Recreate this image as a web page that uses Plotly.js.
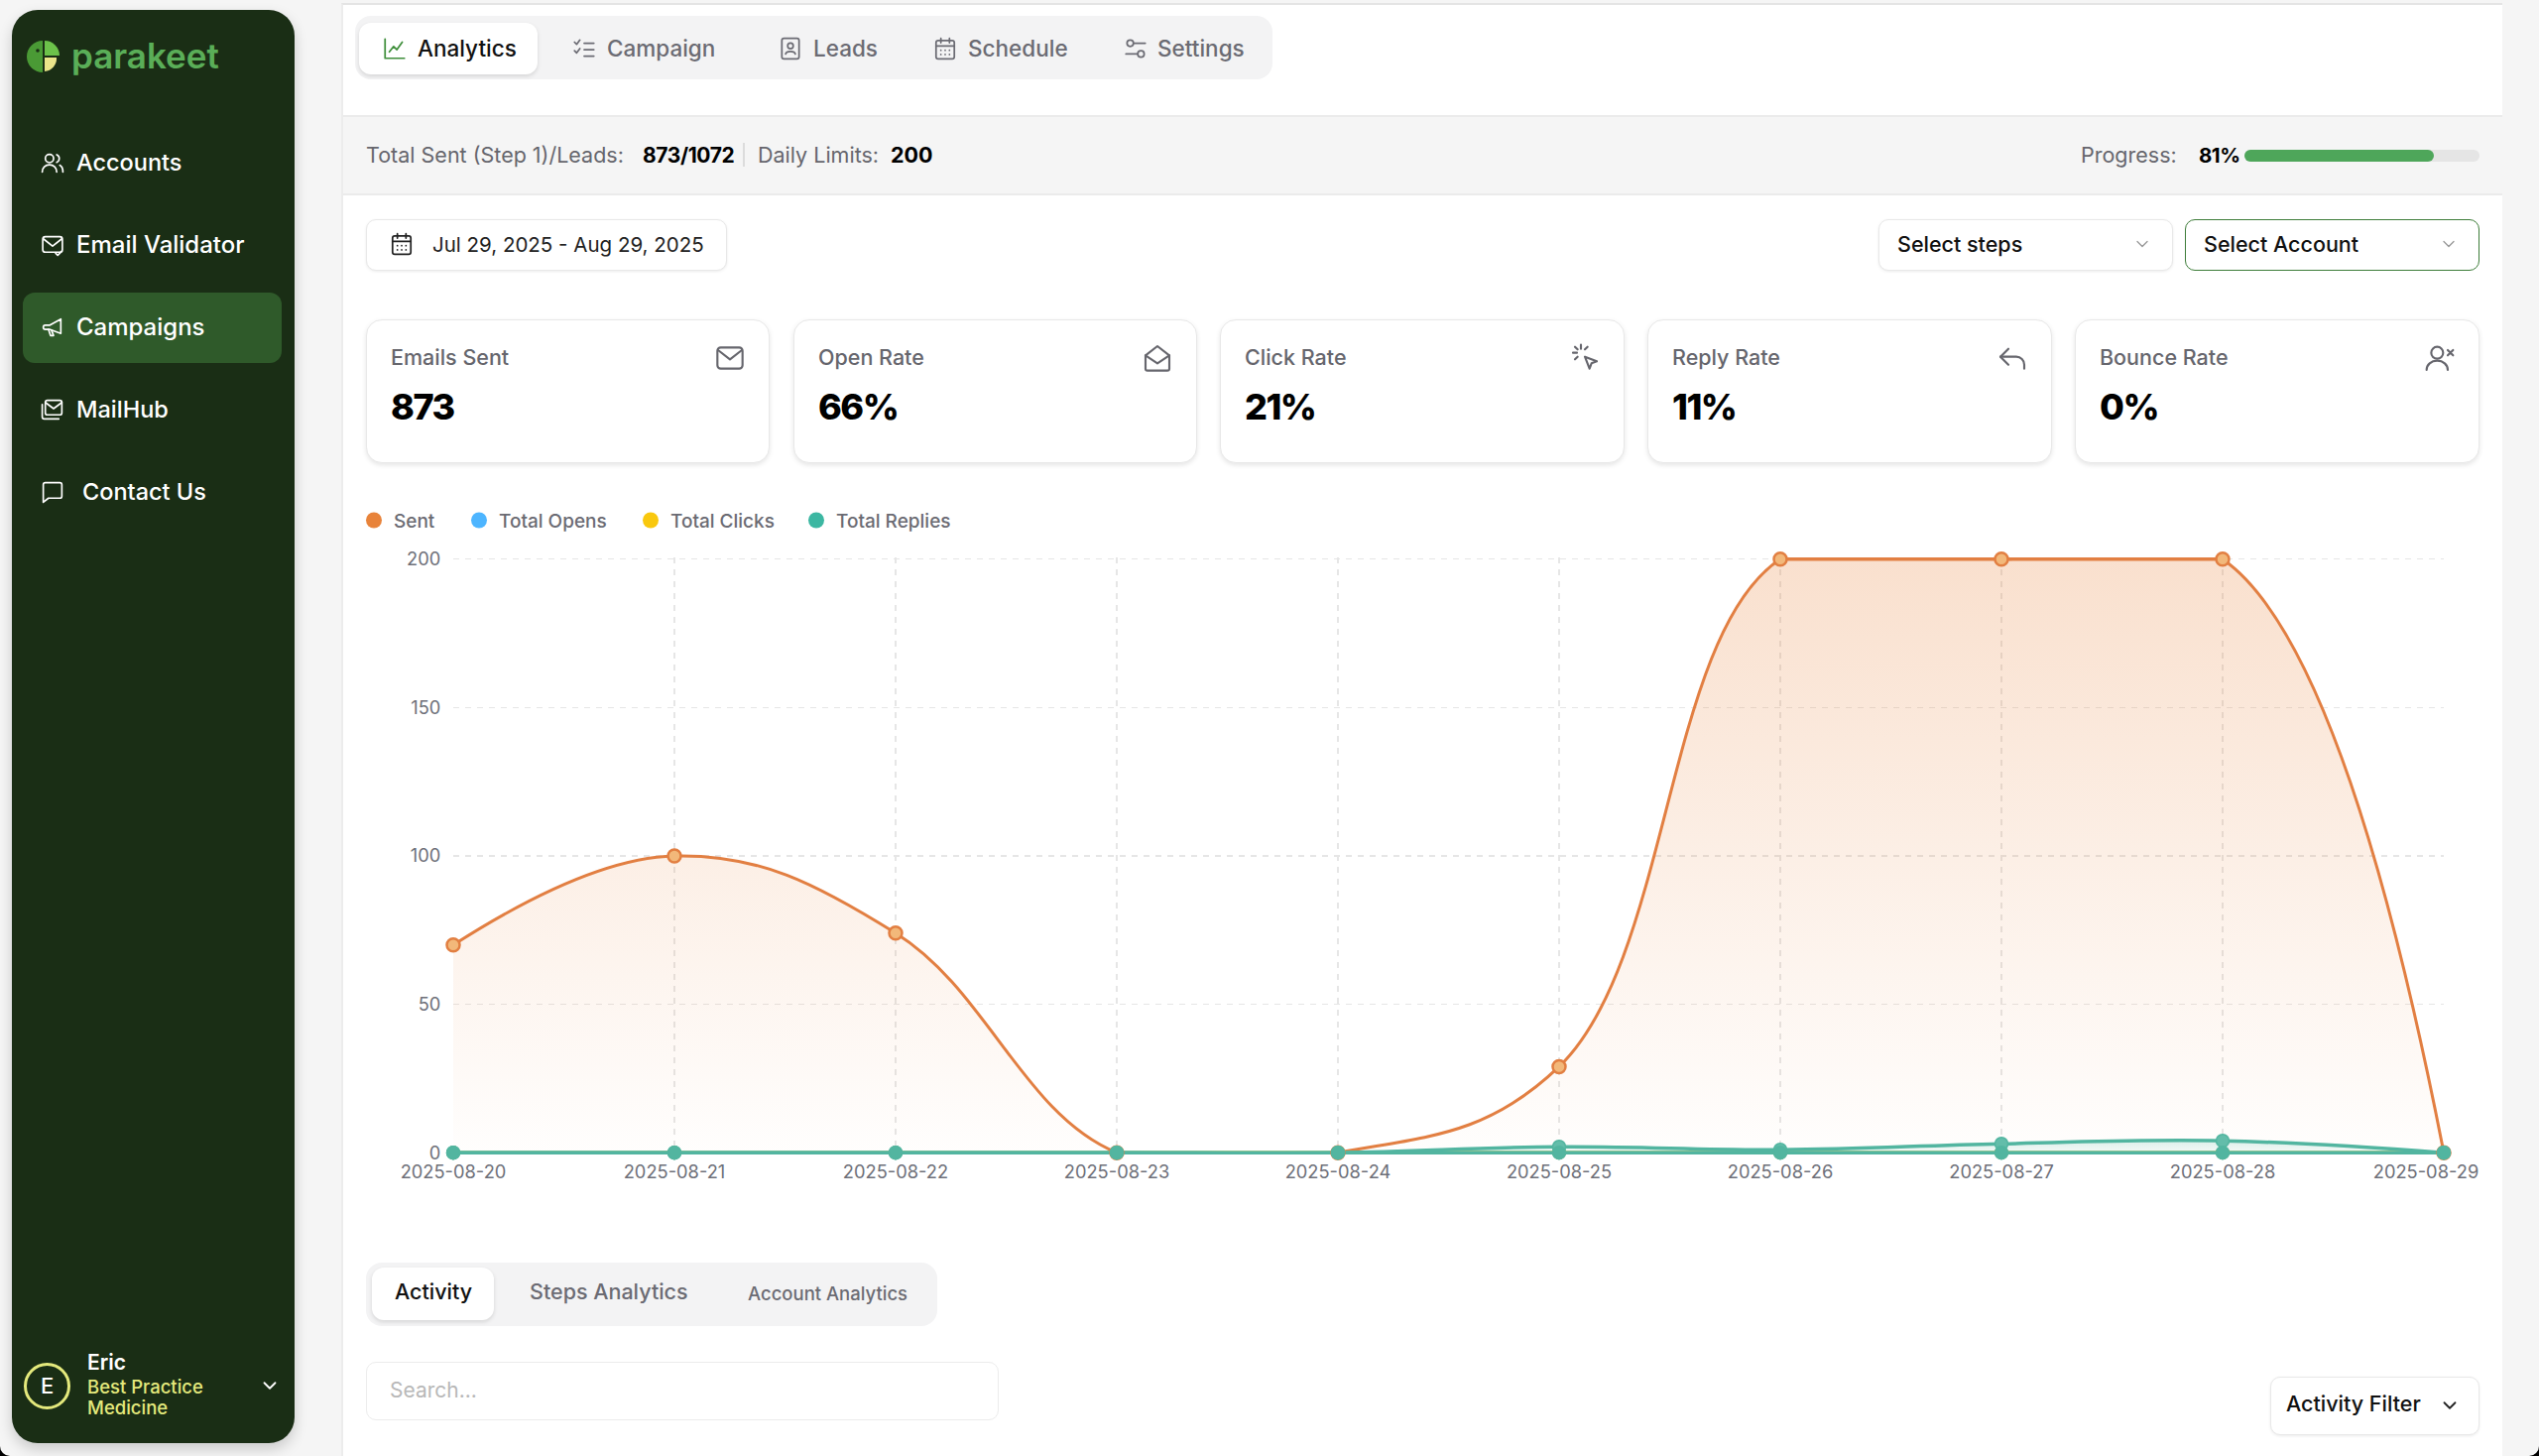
<!DOCTYPE html>
<html><head><meta charset="utf-8">
<script src="https://cdn.plot.ly/plotly-3.0.1.min.js"></script>
<style>
html,body{margin:0;padding:0;width:2560px;height:1468px;overflow:hidden;background:#000;font-family:Inter,"Open Sans",sans-serif}
#page{position:absolute;left:0;top:0;width:2560px;height:1468px;background:#f5f5f5;border-radius:0 0 10px 10px;overflow:hidden}
.b{position:absolute;box-sizing:border-box}
.t{position:absolute;white-space:nowrap;transform:translateY(-50%);line-height:1.2}
svg.i{position:absolute;transform:translate(-50%,-50%);fill:none;stroke-linecap:round;stroke-linejoin:round}
#chart{position:absolute;left:340px;top:490px;width:2220px;height:760px}
</style></head><body><div id="page"><div id="chart"></div></div>
<script>
// Chart data
const dates = ['2025-08-20','2025-08-21','2025-08-22','2025-08-23','2025-08-24','2025-08-25','2025-08-26','2025-08-27','2025-08-28','2025-08-29'];
const sent = [70,100,74,0,0,29,200,200,200,0];
const totalOpens = [0,0,0,0,0,0,0,0,0,0];
const totalClicks = [0,0,0,0,0,0,0,0,0,0];
const upperTeal = [0,0,0,0,0,2,1,3,4,0];
const totalReplies = [0,0,0,0,0,0,0,0,0,0];
const yTicks = [0,50,100,150,200];
const legendNames = ['Sent','Total Opens','Total Clicks','Total Replies'];
const legendColors = ['#e8833a','#4db5ff','#f9c80e','#3cb7a2'];

// UI text
const navItems = ['Accounts','Email Validator','Campaigns','MailHub','Contact Us'];
const topTabs = ['Analytics','Campaign','Leads','Schedule','Settings'];
const statLabels = ['Emails Sent','Open Rate','Click Rate','Reply Rate','Bounce Rate'];
const statValues = ['873','66%','21%','11%','0%'];

const page = document.getElementById('page');
function box(x,y,w,h,style){const d=document.createElement('div');d.className='b';d.style.cssText=`left:${x}px;top:${y}px;width:${w}px;height:${h}px;`+(style||'');page.appendChild(d);return d;}
function txt(s,x,y,size,weight,color,extra){const d=document.createElement('div');d.className='t';d.textContent=s;d.style.cssText=`left:${x}px;top:${y}px;font-size:${size}px;font-weight:${weight};color:${color};`+(extra||'');page.appendChild(d);return d;}
function ico(x,y,size,color,body,sw){const s=document.createElementNS('http://www.w3.org/2000/svg','svg');s.setAttribute('class','i');s.setAttribute('viewBox','0 0 24 24');s.setAttribute('width',size);s.setAttribute('height',size);s.style.cssText=`left:${x}px;top:${y}px;stroke:${color};stroke-width:${sw||1.6}`;s.innerHTML=body;page.appendChild(s);}

const I={
 users:'<circle cx="9" cy="8" r="4"/><path d="M2 21c0-4 3-7 7-7s7 3 7 7"/><path d="M16 4.3a4 4 0 0 1 0 7.4M19 14.5c2 1 3 3.5 3 6.5"/>',
 mailchk:'<rect x="2.5" y="4" width="19" height="15" rx="2.5"/><path d="M3 6l9 7 9-7"/><path d="M15 20l2 2 4-4"/>',
 mega:'<path d="M20 4v14L9 14H5a2 2 0 0 1-2-2v0a2 2 0 0 1 2-2h4z"/><path d="M8 14l2 6h3l-2-5"/>',
 hub:'<rect x="5" y="3" width="16" height="14" rx="2"/><path d="M5 5l8 6 8-6"/><path d="M2 7v12a2 2 0 0 0 2 2h14"/>',
 chat:'<path d="M3 5a2 2 0 0 1 2-2h14a2 2 0 0 1 2 2v11a2 2 0 0 1-2 2H8l-5 4z"/>',
 chart:'<path d="M3 3v18h18"/><path d="M7 15l4-5 3 3 5-7"/>',
 list:'<path d="M3 6l2 2 3-4M3 14l2 2 3-4M12 7h9M12 13h9M12 19h9"/>',
 lead:'<rect x="4" y="2.5" width="16" height="19" rx="2"/><circle cx="12" cy="9.5" r="2.6"/><path d="M7.5 17c.8-3 8.200-3 9 0"/>',
 cal:'<rect x="3.500" y="4.500" width="17" height="17" rx="2"/><path d="M3.500 9.500h17M8 2.500v4M16 2.500v4M8 13.500h.01M12 13.500h.01M16 13.500h.01M8 17.500h.01M12 17.500h.01M16 17.500h.01"/>',
 sliders:'<circle cx="7" cy="7" r="3"/><circle cx="17" cy="17" r="3"/><path d="M10 7h11M3 17h11"/>',
 mail:'<rect x="2.500" y="4" width="19" height="16" rx="2.500"/><path d="M3 6l9 7 9-7"/>',
 mailopen:'<path d="M3 10l9-7 9 7v10a1.500 1.500 0 0 1-1.500 1.500h-15A1.500 1.500 0 0 1 3 20z"/><path d="M3 10l9 6 9-6"/>',
 click:'<path d="M12 11l9 3.500-4 1.500-1.500 4z"/><path d="M9 2v3M3 8h3M4.500 3.500l2 2M14 3.500l-2 2M4.500 13l2-2"/>',
 reply:'<path d="M9 5L3 11l6 6"/><path d="M3 11h12a6 6 0 0 1 6 6v3"/>',
 userx:'<circle cx="10" cy="8" r="4.500"/><path d="M2 21c0-4 3.500-7 8-7s8 3 8 7"/><path d="M18 6l4 4M22 6l-4 4"/>',
 chev:'<path d="M6 9l6 6 6-6"/>'
};

// Sidebar
box(11.500,10,285,1445,'background:#1a2e15;border-radius:26px;box-shadow:0 6px 14px rgba(0,0,0,.18)');
box(23,295,261,71,'background:#2f5a2a;border-radius:12px');
// logo
const logo=document.createElementNS('http://www.w3.org/2000/svg','svg');logo.setAttribute('width',36);logo.setAttribute('height',36);logo.setAttribute('viewBox','0 0 36 36');logo.style.cssText='position:absolute;left:26px;top:39px';
logo.innerHTML='<path d="M17 2A16 16 0 0 0 17 34z" fill="#4a9a35"/><path d="M19 2A15 15 0 0 1 34 17H19z" fill="#6cc24a"/><path d="M19 19H31A13 13 0 0 1 19 33z" fill="#eae58a"/><circle cx="12" cy="12" r="1.800" fill="#1a2e15"/>';page.appendChild(logo);
txt('parakeet',72,56,35,600,'#5aae58');
const navY=[164,247,330,413,496], navI=[I.users,I.mailchk,I.mega,I.hub,I.chat], navX=[77,77,77,77,83];
const navSize=[23.500,24,24,23.500,23.500];
navItems.forEach((n,i)=>{ico(53,navY[i],25,'#fff',navI[i]);txt(n,navX[i],navY[i],navSize[i],500,'#fff');});
box(24,1374,47,47,'border:3px solid #e4e97c;border-radius:50%');
txt('E',41,1397,22,500,'#fff');
txt('Eric',88,1374,21,600,'#fff');
txt('Best Practice',88,1398,18.500,500,'#e4e97c');
txt('Medicine',88,1419,18.500,500,'#e4e97c');
ico(272,1397,22,'#fff',I.chev,2);

// Main panel
box(344,3,2179,1465,'background:#fff;border-left:2px solid #ececec;border-top:2px solid #e4e4e4');
box(346,116,2177,81,'background:#f5f5f5;border-top:2px solid #ebebeb;border-bottom:2px solid #ebebeb');
document.getElementById('chart').style.zIndex=2;

// Top tabs
box(358,16,925,64,'background:#f3f3f4;border-radius:16px');
box(362,23,180,52,'background:#fff;border-radius:12px;box-shadow:0 2px 4px rgba(0,0,0,.12)');
const tabX=[421,612,820,976,1167], tabIx=[398,589,797,953,1145], tabI=[I.chart,I.list,I.lead,I.cal,I.sliders];
topTabs.forEach((n,i)=>{ico(tabIx[i],49,26,i==0?'#3e8e3a':'#6b6b73',tabI[i]);txt(n,tabX[i],48,22.500,500,i==0?'#111':'#6b6b73');});

// Status bar
txt('Total Sent (Step 1)/Leads:',369,156.500,21.500,400,'#66666d');
txt('873/1072',648,156.500,21,700,'#000','letter-spacing:-.4px');
box(749,144,1.500,24,'background:#dcdcdc');
txt('Daily Limits:',764,156.500,21.500,400,'#66666d');
txt('200',898,156.500,21.500,700,'#000');
txt('Progress:',2098,156.500,21.500,400,'#66666d');
txt('81%',2217,156.500,20.500,700,'#000','letter-spacing:-.5px');
box(2263,151,237,12,'background:#e5e5e5;border-radius:6px');
box(2263,151,191,12,'background:#4ea65a;border-radius:6px');

// Filters
const ctl='background:#fff;border:1.500px solid #e8e8e8;border-radius:10px;box-shadow:0 1px 3px rgba(0,0,0,.08)';
box(369,221,364,52,ctl);ico(405,246,26,'#222',I.cal);txt('Jul 29, 2025 - Aug 29, 2025',436,246.500,20.500,400,'#222');
box(1894,221,297,52,ctl);txt('Select steps',1913,246.500,21.500,500,'#111');ico(2160,246,20,'#999',I.chev);
box(2203,221,297,52,'background:#fff;border:1.500px solid #3e7d3a;border-radius:10px');txt('Select Account',2222,246.500,21.500,500,'#111');ico(2469,246,20,'#999',I.chev);

// Stat cards
const cardX=[369,800,1230,1661,2092], cardW=[407,407,408,408,408], cardI=[I.mail,I.mailopen,I.click,I.reply,I.userx];
statLabels.forEach((n,i)=>{box(cardX[i],322,cardW[i],145,'background:#fff;border:1.500px solid #e8e8e8;border-radius:16px;box-shadow:0 2px 5px rgba(0,0,0,.1)');
 txt(n,cardX[i]+25,361,21.500,500,'#66666d');txt(statValues[i],cardX[i]+25,411,36,800,'#000','letter-spacing:-1.500px');ico(cardX[i]+cardW[i]-40,361,32,'#66666d',cardI[i]);});

// Bottom
box(369,1273,576,64,'background:#f3f3f4;border-radius:16px');
box(375,1278,123,53,'background:#fff;border-radius:12px;box-shadow:0 2px 4px rgba(0,0,0,.12)');
txt('Activity',398,1303,21.500,500,'#111');txt('Steps Analytics',534,1303,21.500,500,'#6b6b73');txt('Account Analytics',754,1304,18.500,500,'#6b6b73');
box(369,1373,638,59,'background:#fff;border:1.500px solid #ececec;border-radius:10px');txt('Search...',393,1402,21,400,'#b8b8b8');
box(2289,1388,211,59,ctl);txt('Activity Filter',2305,1416,21.500,500,'#111');ico(2470,1417,22,'#222',I.chev,2);

// Chart
const axisFont={family:'Inter, sans-serif',size:18.300,color:'#6e7079'};
const orange='#e27f42', teal='#52b5a0';
function lineTrace(y,color,w,fill,grad,shape){return {x:dates,y:y,type:'scatter',mode:'lines',connectgaps:false,line:{shape:shape||'spline',smoothing:1.15,color:color,width:w},fill:fill||'none',fillgradient:grad,showlegend:false,hoverinfo:'skip'};}
function markTrace(y,fillc,linec,size,lw){return {x:dates,y:y,type:'scatter',mode:'markers',cliponaxis:false,marker:{size:size,color:fillc,line:{color:linec,width:lw}},showlegend:false,hoverinfo:'skip'};}
const sentPlateau = sent.map(v=>v===200?v:null);
const data=[
 lineTrace(sent,orange,3,'tozeroy',{type:'vertical',start:0,stop:200,colorscale:[[0,'rgba(232,131,58,0.01)'],[1,'rgba(232,131,58,0.25)']]}),
 lineTrace(sentPlateau,orange,3.500,'none',undefined,'linear'),
 lineTrace(totalOpens,legendColors[1],3.500),
 lineTrace(totalClicks,legendColors[2],3.500),
 lineTrace(upperTeal,teal,3.500,'tozeroy',{type:'vertical',start:0,stop:8,colorscale:[[0,'rgba(82,181,160,0.05)'],[1,'rgba(82,181,160,0.35)']]}),
 lineTrace(totalReplies,teal,3.500),
 markTrace(sent,'#f2b87a',orange,13,2.500),
 markTrace(totalOpens,legendColors[1],legendColors[1],13,1),
 markTrace(totalClicks,legendColors[2],legendColors[2],13,1),
 markTrace(upperTeal,'#63bdaa',teal,13,1.500),
 markTrace(totalReplies,teal,teal,13,1.500)
];
const legendCenters=[377,483,656,823];
const legendIds=['legend','legend2','legend3','legend4'];
const plotW=2220-117-96, plotL=340+117;
legendNames.forEach((n,i)=>data.push({x:[null],y:[null],type:'scatter',mode:'markers',name:n,legend:legendIds[i],showlegend:true,marker:{size:16,color:legendColors[i]},hoverinfo:'skip'}));
const layout={
 paper_bgcolor:'rgba(0,0,0,0)',plot_bgcolor:'rgba(0,0,0,0)',
 margin:{l:117,r:96,t:72.200,b:85.700,pad:0},autosize:false,width:2220,height:760,
 xaxis:{type:'category',categoryorder:'array',categoryarray:dates,range:[0,9],tickmode:'array',tickvals:dates,ticktext:dates.map((d,i)=>i===dates.length-1?d+'\u00a0'.repeat(7):d),showgrid:true,griddash:'6px,6px',gridcolor:'#e6e6e6',gridwidth:1.300,zeroline:false,showline:false,ticks:'outside',ticklen:1,tickcolor:'rgba(0,0,0,0)',tickfont:axisFont,tickangle:0},
 yaxis:{range:[-0.6,200.6],tickmode:'array',tickvals:yTicks,ticktext:yTicks.map(String),showgrid:true,griddash:'6px,6px',gridcolor:'#e6e6e6',gridwidth:1.300,zeroline:false,showline:false,ticks:'outside',ticklen:8,tickcolor:'rgba(0,0,0,0)',tickfont:axisFont},
 hovermode:false
};
legendIds.forEach((id,i)=>{layout[id]={orientation:'h',x:(legendCenters[i]-20-plotL)/plotW,xanchor:'left',y:1.062,yanchor:'middle',itemsizing:'trace',itemwidth:30,font:{family:'Inter, sans-serif',size:19,weight:500,color:'#6b6b73'},bgcolor:'rgba(0,0,0,0)'};});
Plotly.newPlot('chart',data,layout,{staticPlot:true,displayModeBar:false});
</script></body></html>
